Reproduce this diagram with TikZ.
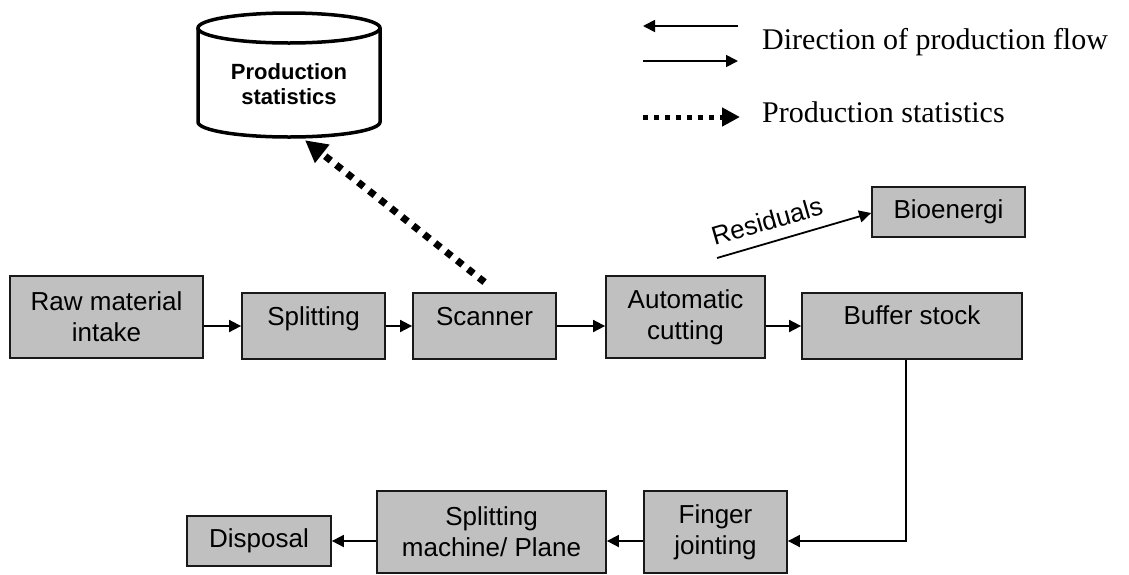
\documentclass[tikz,border=0pt]{standalone}
\usepackage{fontspec}
\setmainfont{Liberation Serif}
\setsansfont{Liberation Sans}
\usetikzlibrary{arrows.meta,calc}
\definecolor{boxgray}{RGB}{192,192,192}
\definecolor{edge}{RGB}{25,25,25}
\begin{document}
\begin{tikzpicture}[x=1pt,y=-1pt,
  box/.style={draw=edge, line width=1.8pt, fill=boxgray, inner sep=0pt, align=center,
              font=\sffamily\fontsize{26}{31}\selectfont},
  upper/.style={text height=10pt, text depth=12pt},
  flow/.style={line width=1.8pt, -{Triangle[length=12pt,width=12pt]}},
  stat/.style={line width=7pt, dash pattern=on 7pt off 7pt, -{Triangle[length=22pt,width=22pt]}},
  statleg/.style={line width=5pt, dash pattern=on 5pt off 6pt, -{Triangle[length=18pt,width=18pt]}},
  legtext/.style={anchor=base west, inner sep=0pt, font=\rmfamily\fontsize{30}{36}\selectfont},
]
\useasboundingbox (0,0) rectangle (1129,574);

% database cylinder
\fill[white] (198,28) -- (198,122) arc[start angle=180, end angle=0, x radius=91, y radius=15] -- (380,28) -- cycle;
\draw[line width=3.5pt] (198,28) -- (198,122) arc[start angle=180, end angle=0, x radius=91, y radius=15] -- (380,28);
\draw[line width=3.5pt, fill=white] (289,28) ellipse [x radius=91, y radius=15];
\node[inner sep=0pt, minimum width=182pt, minimum height=106pt, align=center,
      font=\sffamily\bfseries\fontsize{22}{25}\selectfont] (stats) at (289,84) {Production\\statistics};

% process boxes
\node[box, minimum width=193pt, minimum height=82pt] (raw) at (106.5,317) {Raw material\\intake};
\node[box, upper, minimum width=143pt, minimum height=66pt] (split) at (313.5,326) {Splitting};
\node[box, upper, minimum width=143pt, minimum height=66pt] (scanner) at (484.5,326) {Scanner};
\node[box, minimum width=159pt, minimum height=82pt] (auto) at (685.5,317) {Automatic\\cutting};
\node[box, text height=10pt, text depth=14pt, minimum width=220pt, minimum height=66pt] (buffer) at (912,326) {Buffer stock};
\node[box, minimum width=153pt, minimum height=50pt] (bio) at (948.5,212) {Bioenergi};
\node[box, minimum width=143pt, minimum height=82pt] (finger) at (715.5,532) {Finger\\jointing};
\node[box, minimum width=229pt, minimum height=82pt] (sm) at (491.5,532) {Splitting\\machine/ Plane};
\node[box, minimum width=144pt, minimum height=50pt] (disp) at (259,541) {Disposal};

% flow connectors
\draw[flow] (split.west -| raw.east) -- (split.west);
\draw[flow] (split.east) -- (scanner.west);
\draw[flow] (scanner.east) -- (scanner.east -| auto.west);
\draw[flow] (buffer.west -| auto.east) -- (buffer.west);
\coordinate (bend) at (906,541);
\draw[flow] (bend |- buffer.south) -- (bend) -- (bend -| finger.east);
\draw[flow] (disp.east -| finger.west) -- (disp.east -| sm.east);
\draw[flow] (disp.east -| sm.west) -- (disp.east);

% residuals
\coordinate (res) at (717,258);
\draw[flow] (res) -- ([yshift=-1pt]bio.west);
\node[rotate=16, inner sep=0pt, font=\sffamily\fontsize{26}{31}\selectfont] (reslab) at (767,221) {Residuals};

% statistics
\draw[stat] ([yshift=10pt]scanner.north) -- ([xshift=16pt,yshift=-3pt]stats.south);

% legend
\coordinate (l1a) at (738,26);
\coordinate (l1b) at (643,26);
\coordinate (l2a) at (643,61);
\coordinate (l2b) at (738,61);
\coordinate (l3a) at (643,117);
\coordinate (l3b) at (740,117);
\draw[flow] (l1a) -- (l1b);
\draw[flow] (l2a) -- (l2b);
\draw[statleg] (l3a) -- (l3b);
\node[legtext] (lt1) at (762,49) {Direction of production flow};
\node[legtext] (lt2) at (762,122) {Production statistics};
\end{tikzpicture}
\end{document}
